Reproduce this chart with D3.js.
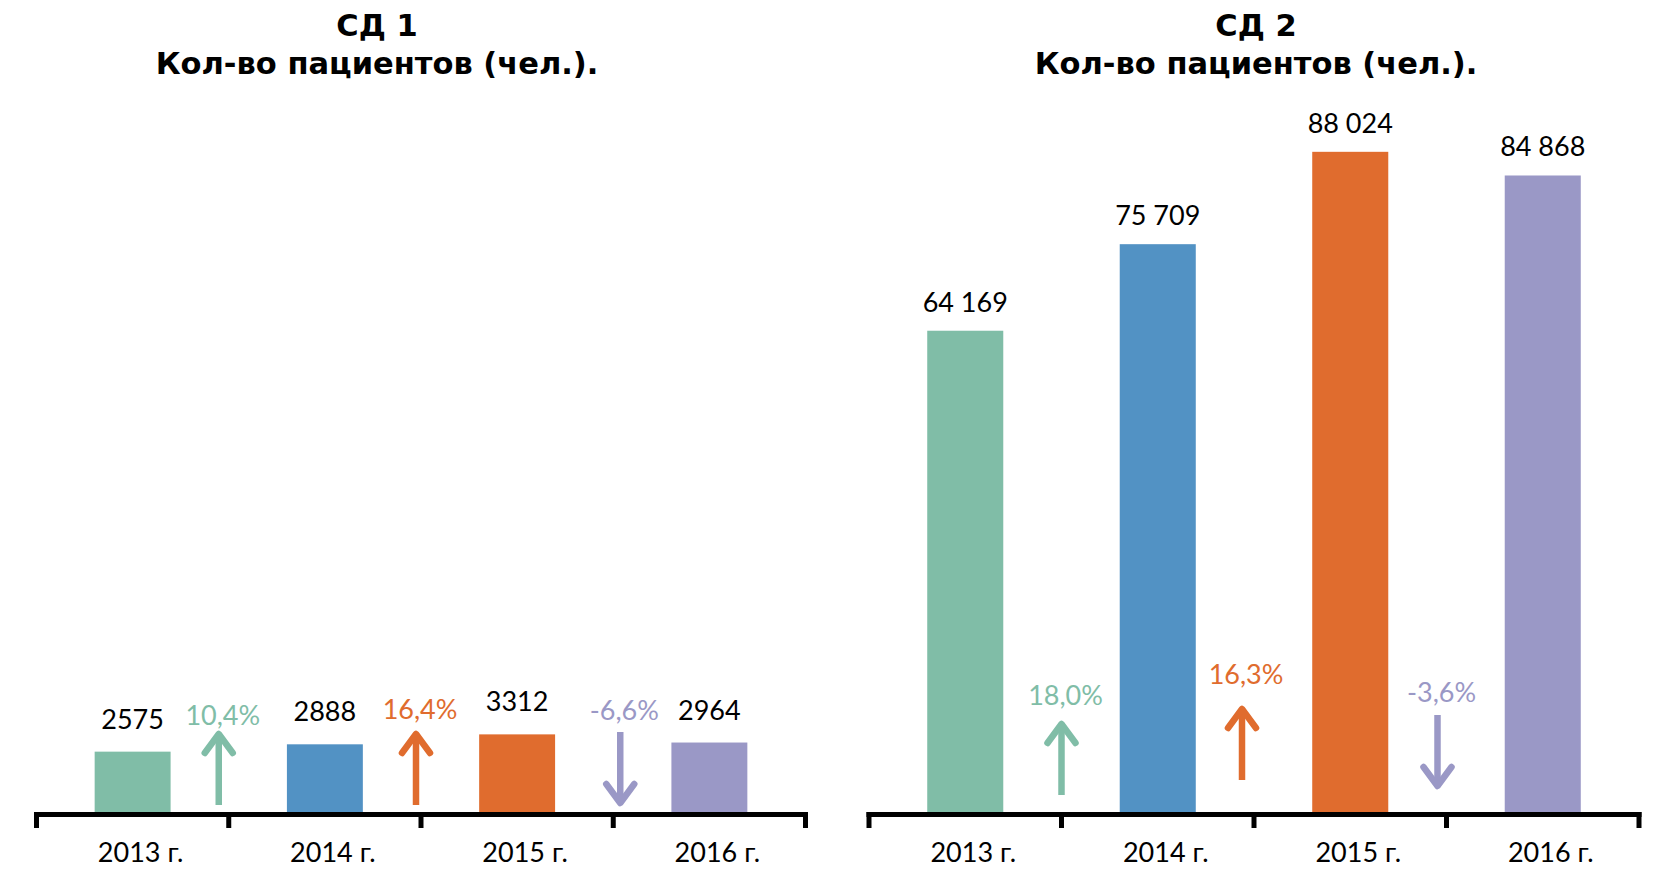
<!DOCTYPE html>
<html>
<head>
<meta charset="utf-8">
<script src="https://cdn.jsdelivr.net/npm/d3@7"></script>
<style>
  html, body { margin: 0; padding: 0; background: #fff; }
  svg { display: block; }
  .title { font-family: "DejaVu Sans", sans-serif; font-weight: bold; fill: #000; }
  .num { font-family: Lato, "Noto Sans", sans-serif; fill: #000; }
</style>
</head>
<body>
<div id="chart"></div>
<script>
// Data
var years = ['2013 г.', '2014 г.', '2015 г.', '2016 г.'];
var sd1Values = [2575, 2888, 3312, 2964];
var sd2Values = [64169, 75709, 88024, 84868];
var sd1Change = [10.4, 16.4, -6.6];
var sd2Change = [18.0, 16.3, -3.6];
var barColors = ['#80bda7', '#5292c4', '#e06c2e', '#9a98c6'];
var arrowColors = ['#80bda7', '#e06c2e', '#9a98c6'];
var chartTitles = [['СД 1', 'Кол-во пациентов (чел.).'], ['СД 2', 'Кол-во пациентов (чел.).']];

var W = 1656, H = 869;

var ru = d3.formatLocale({ decimal: ',', thousands: '\u00a0', grouping: [3], currency: ['', ''] });
var pct = v => ru.format('.1f')(v).replace('−', '-') + '%';

// Layout of the two panels
var panels = [
  { values: sd1Values, change: sd1Change, title: chartTitles[0], fmt: d3.format('d'),
    x0: 36.5, x1: 805.5, yMax: 32000, titleX: 377, valGap: 23,
    arrowDx: [-10, -5, 7], arrowLift: [7, 7, 7], labelGap: [7, 13, 12] },
  { values: sd2Values, change: sd2Change, title: chartTitles[1], fmt: ru.format(','),
    x0: 869, x1: 1639, yMax: 100000, titleX: 1256, valGap: 19,
    arrowDx: [0, -12, -9], arrowLift: [17, 32, 24], labelGap: [17, 23, 13] }
];

var axisY = 812, plotTop = 62;

var svg = d3.select('#chart').append('svg').attr('width', W).attr('height', H);

panels.forEach(p => {
  var g = svg.append('g');

  var x = d3.scaleBand().domain(years).range([p.x0, p.x1]).paddingInner(0.605).paddingOuter(0.3025);
  var y = d3.scaleLinear().domain([0, p.yMax]).range([axisY, plotTop]);
  var step = x.step(), bw = x.bandwidth();
  var edge = d => x(d) - (step - bw) / 2;

  // Title
  var t = g.append('text').attr('class', 'title').attr('text-anchor', 'middle').attr('font-size', 30.5);
  t.append('tspan').attr('x', p.titleX).attr('y', 36).text(p.title[0]);
  t.append('tspan').attr('x', p.titleX).attr('y', 74).text(p.title[1]);

  // Bars
  g.selectAll('rect.bar')
    .data(p.values)
    .join('rect')
      .attr('class', 'bar')
      .attr('x', (d, i) => x(years[i]))
      .attr('width', bw)
      .attr('y', d => y(d))
      .attr('height', d => y(0) - y(d))
      .attr('fill', (d, i) => barColors[i]);

  // Value labels
  g.selectAll('text.val')
    .data(p.values)
    .join('text')
      .attr('class', 'num val')
      .attr('font-size', 27)
      .attr('text-anchor', 'middle')
      .attr('x', (d, i) => x(years[i]) + bw / 2)
      .attr('y', d => y(d) - p.valGap)
      .text(d => p.fmt(d));

  // Axis line and tick marks between categories
  var bounds = years.map(edge).concat([p.x1]);
  g.append('line')
    .attr('x1', p.x0 - 2.5).attr('x2', p.x1 + 2.5)
    .attr('y1', axisY + 2.5).attr('y2', axisY + 2.5)
    .attr('stroke', '#000').attr('stroke-width', 5);
  g.selectAll('line.tick')
    .data(bounds)
    .join('line')
      .attr('class', 'tick')
      .attr('x1', d => d).attr('x2', d => d)
      .attr('y1', axisY).attr('y2', axisY + 16)
      .attr('stroke', '#000').attr('stroke-width', 5);

  // Year labels
  g.selectAll('text.year')
    .data(years)
    .join('text')
      .attr('class', 'num year')
      .attr('font-size', 27)
      .attr('text-anchor', 'middle')
      .attr('x', d => x(d) + bw / 2 + 8)
      .attr('y', axisY + 50)
      .text(d => d);

  // Change arrows between neighbouring years
  var arrowLen = 73, headW = 14, headH = 21;
  p.change.forEach((c, i) => {
    var ax = edge(years[i + 1]) + p.arrowDx[i];
    var bottom = axisY - p.arrowLift[i];
    var top = bottom - arrowLen;
    var col = arrowColors[i];
    var up = c >= 0;
    var a = g.append('g').attr('stroke', col).attr('stroke-width', 6.5).attr('fill', 'none');
    if (up) {
      a.append('line').attr('x1', ax).attr('x2', ax).attr('y1', bottom).attr('y2', top + 2);
      a.append('polyline')
        .attr('stroke-linecap', 'round').attr('stroke-linejoin', 'round')
        .attr('points', [[ax - headW, top + headH], [ax, top + 2], [ax + headW, top + headH]].join(' '));
    } else {
      a.append('line').attr('x1', ax).attr('x2', ax).attr('y1', top).attr('y2', bottom - 2);
      a.append('polyline')
        .attr('stroke-linecap', 'round').attr('stroke-linejoin', 'round')
        .attr('points', [[ax - headW, bottom - headH], [ax, bottom - 2], [ax + headW, bottom - headH]].join(' '));
    }
    g.append('text')
      .attr('class', 'num')
      .attr('font-size', 27)
      .attr('text-anchor', 'middle')
      .style('fill', col)
      .attr('x', ax + 4)
      .attr('y', top - p.labelGap[i])
      .text(pct(c));
  });
});
</script>
</body>
</html>
